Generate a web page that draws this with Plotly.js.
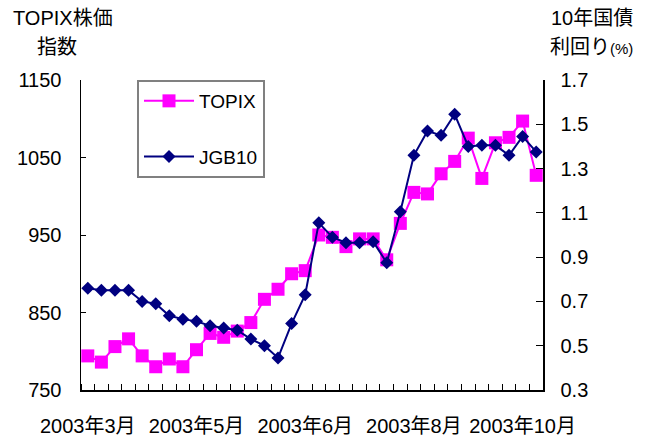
<!DOCTYPE html>
<html>
<head>
<meta charset="utf-8">
<script src="https://cdn.plot.ly/plotly-3.0.1.min.js"></script>
<style>html,body{margin:0;padding:0;background:#fff;}#chart{width:649px;height:436px;}</style>
</head>
<body>
<div id="chart"></div>
<script>
// Weekly observations (Fridays), March - October 2003
const weeks = ["3/7","3/14","3/21","3/28","4/4","4/11","4/18","4/25","5/2","5/9","5/16","5/23","5/30","6/6","6/13","6/20","6/27","7/4","7/11","7/18","7/25","8/1","8/8","8/15","8/22","8/29","9/5","9/12","9/19","9/26","10/3","10/10","10/17","10/24"];
const topix = [794, 786, 806, 816, 794, 780, 790, 780, 802, 823, 818, 826, 837, 867, 880, 900, 904, 950, 947, 935, 945, 945, 918, 965, 1005, 1003, 1029, 1045, 1075, 1023, 1069, 1076, 1097, 1027];
const jgb10 = [0.76, 0.75, 0.75, 0.75, 0.70, 0.69, 0.635, 0.62, 0.61, 0.59, 0.58, 0.57, 0.53, 0.50, 0.445, 0.60, 0.73, 1.055, 0.99, 0.965, 0.965, 0.97, 0.875, 1.105, 1.36, 1.47, 1.45, 1.545, 1.40, 1.405, 1.405, 1.36, 1.445, 1.375];
const tickWeeks = ["3/7","5/2","6/27","8/22","10/17"];
const tickLabels = ["2003年3月","2003年5月","2003年6月","2003年8月","2003年10月"];

const xIdx = weeks.map((_, i) => i);
const FONT = "Liberation Sans, Arial, Noto Sans CJK JP, sans-serif";

const traces = [
  {x: xIdx, y: topix, name: "TOPIX", type: "scatter", mode: "lines+markers", legendgroup: "a",
   line: {color: "#FF00FF", width: 2}, marker: {symbol: "square", size: 13, color: "#FF00FF"}, yaxis: "y"},
  {x: xIdx, y: jgb10, name: "JGB10", type: "scatter", mode: "lines+markers", legendgroup: "b",
   line: {color: "#000080", width: 2}, marker: {symbol: "diamond", size: 10, color: "#000080"}, yaxis: "y2"}
];

const ML = 81, MR = 106, MT = 80, MB = 46, W = 649, H = 436;
const pw = W - ML - MR, ph = H - MT - MB;
function px(x){ return (x - ML) / pw; }
function py(y){ return (H - MB - y) / ph; }

const layout = {
  width: W, height: H,
  margin: {l: ML, r: MR, t: MT, b: MB},
  paper_bgcolor: "#fff", plot_bgcolor: "#fff",
  font: {family: FONT, size: 20, color: "#000"},
  showlegend: true,
  legend: {x: px(137), y: 1, xanchor: "left", yanchor: "top", bordercolor: "#808080", borderwidth: 2,
           bgcolor: "#fff", font: {size: 19}, tracegroupgap: 28, itemwidth: 50, traceorder: "grouped"},
  xaxis: {range: [-0.5, weeks.length - 0.5], tickmode: "array",
          tickvals: tickWeeks.map(w => weeks.indexOf(w)), ticktext: tickLabels,
          ticks: "", showline: true, linecolor: "#000", linewidth: 1.5, showgrid: false, zeroline: false,
          ticklabelstandoff: 17,
          minor: {tick0: 0.5, dtick: 1, ticks: "inside", ticklen: 6, tickcolor: "#000", tickwidth: 1, showgrid: false}},
  yaxis: {range: [750, 1150], dtick: 100, tick0: 750, ticks: "inside", ticklen: 5, tickcolor: "#000",
          showline: true, linecolor: "#000", linewidth: 1.5, showgrid: false, zeroline: false, ticklabelstandoff: 14},
  yaxis2: {range: [0.3, 1.7], dtick: 0.2, tick0: 0.3, tickformat: ".1f", overlaying: "y", side: "right",
           ticks: "inside", ticklen: 7, tickcolor: "#000", showline: true, linecolor: "#000", linewidth: 1.5,
           showgrid: false, zeroline: false, ticklabelstandoff: 12},
  annotations: [
    {text: "TOPIX株価", xref: "paper", yref: "paper", x: px(63), y: py(18), xanchor: "center", yanchor: "middle", showarrow: false, font: {size: 20}},
    {text: "指数", xref: "paper", yref: "paper", x: px(57), y: py(47), xanchor: "center", yanchor: "middle", showarrow: false, font: {size: 20}},
    {text: "10年国債", xref: "paper", yref: "paper", x: px(635), y: py(18), xanchor: "right", yanchor: "middle", showarrow: false, font: {size: 20}},
    {text: "利回り<span style='font-size:15px'>(%)</span>", xref: "paper", yref: "paper", x: px(635), y: py(47), xanchor: "right", yanchor: "middle", showarrow: false, font: {size: 20}}
  ]
};

Plotly.newPlot("chart", traces, layout, {staticPlot: true});
</script>
</body>
</html>
